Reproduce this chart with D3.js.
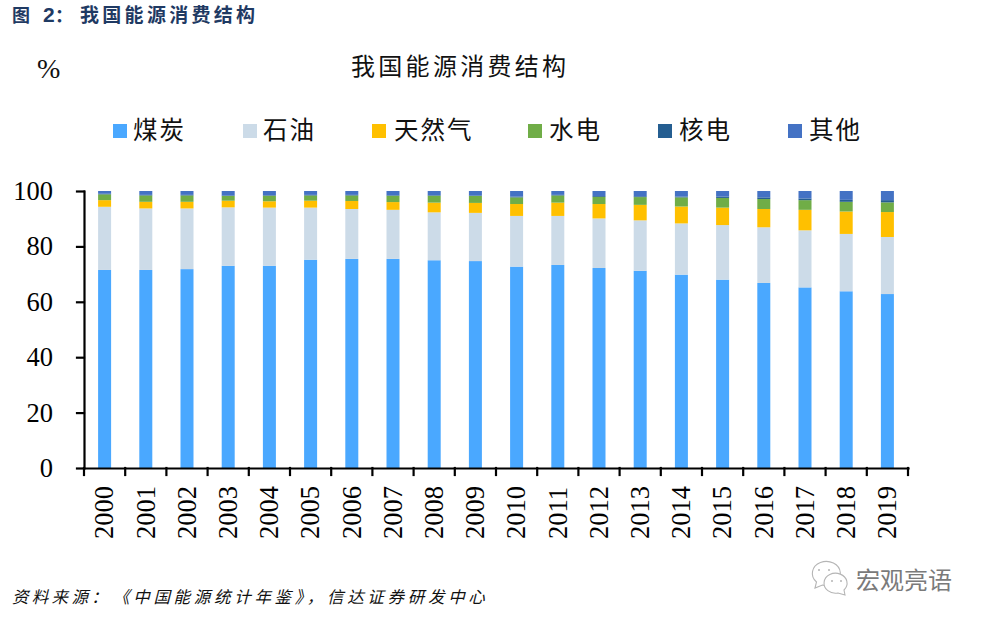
<!DOCTYPE html>
<html><head><meta charset="utf-8">
<script src="https://cdnjs.cloudflare.com/ajax/libs/d3/7.8.5/d3.min.js"></script>
<style>
html,body{margin:0;padding:0;background:#fff}
svg{display:block}
text{font-family:"Liberation Serif","Noto Sans CJK SC",serif}
.axis path,.axis line{stroke:#000;stroke-width:2.2;stroke-linecap:square}
.axis text{font-size:26.5px;fill:#000;font-family:"Liberation Serif",serif}
</style></head><body>
<svg id="c" width="983" height="623"></svg>
<script>
const years=["2000","2001","2002","2003","2004","2005","2006","2007","2008","2009","2010","2011","2012","2013","2014","2015","2016","2017","2018","2019"];
const names=["煤炭","石油","天然气","水电","核电","其他"];
const colors=["#4aa8ff","#ccdbe8","#ffc000","#70ad47","#255e91","#4472c4"];
const coal=[71.5,71.5,71.8,73.0,73.0,75.2,75.5,75.5,75.0,74.7,72.7,73.3,72.2,71.2,69.8,68.0,66.8,65.2,63.8,62.8];
const oil=[22.8,22.2,21.9,21.1,21.0,18.8,18.0,17.7,17.3,17.4,18.3,17.7,17.9,18.2,18.5,19.7,20.1,20.6,20.7,20.6];
const gas=[2.4,2.4,2.4,2.4,2.3,2.5,2.9,2.8,3.5,3.6,4.3,4.8,5.2,5.6,6.1,6.3,6.6,7.4,8.1,9.0];
const hydro=[2.1,2.3,2.3,1.7,2.0,1.9,2.0,2.3,2.5,2.5,2.4,2.6,2.6,2.8,3.3,3.5,3.6,3.5,3.5,3.5];
const nuclear=[0.2,0.2,0.2,0.2,0.2,0.2,0.2,0.2,0.2,0.2,0.3,0.2,0.3,0.3,0.3,0.5,0.6,0.6,0.7,0.8];
const other=[1.0,1.4,1.4,1.6,1.5,1.4,1.4,1.5,1.5,1.6,2.0,1.4,1.8,1.9,2.0,2.0,2.3,2.7,3.2,3.3];
const yTicks=[0,20,40,60,80,100];

const series=[coal,oil,gas,hydro,nuclear,other];
const rows=years.map((y,i)=>{const r={year:y};names.forEach((n,k)=>r[n]=series[k][i]);return r;});
const stack=d3.stack().keys(names)(rows);

const svg=d3.select("#c");
const x=d3.scaleBand().domain(years).range([84,908]).paddingInner(1-13/41.2).paddingOuter((1-13/41.2)/2);
const y=d3.scaleLinear().domain([0,100]).range([468,191]);

svg.append("g").selectAll("g").data(stack).join("g").attr("fill",(d,i)=>colors[i])
  .selectAll("rect").data(d=>d).join("rect")
  .attr("x",d=>x(d.data.year)).attr("width",x.bandwidth())
  .attr("y",d=>y(d[1])).attr("height",d=>y(d[0])-y(d[1]));

const gy=svg.append("g").attr("class","axis").attr("transform","translate(84,0)")
  .call(d3.axisLeft(y).tickValues(yTicks).tickSize(7).tickSizeOuter(0).tickPadding(24));
const gx=svg.append("g").attr("class","axis").attr("transform","translate(0,468)")
  .call(d3.axisBottom(x).tickSize(0).tickPadding(0));
gx.selectAll(".tick line").remove();
gx.selectAll(".tick text").attr("transform","translate(0,18) rotate(-90)").attr("x",-53).attr("y",0).attr("dy","0.33em").attr("text-anchor","start");
const step=x.step();
gx.selectAll("line.t").data(d3.range(years.length+1)).join("line").attr("class","t")
  .attr("x1",i=>84+i*step).attr("x2",i=>84+i*step).attr("y1",0).attr("y2",7);

// title block
const hc="#1f3a63";
svg.append("text").attr("x",12).attr("y",22).attr("fill",hc).attr("font-weight","bold").attr("font-size",18).text("图");
svg.append("text").attr("x",43).attr("y",22).attr("fill",hc).attr("font-weight","bold").attr("font-size",21)
  .style("font-family","'Liberation Sans','Noto Sans CJK SC'").text("2");
svg.append("text").attr("x",55).attr("y",22).attr("fill",hc).attr("font-weight","bold").attr("font-size",18).text("：");
svg.append("text").attr("x",80).attr("y",22).attr("fill",hc).attr("font-weight","bold").attr("font-size",19).style("letter-spacing","3.3px").text("我国能源消费结构");
svg.append("text").attr("x",351).attr("y",75).attr("font-size",24).style("letter-spacing","3.3px").attr("fill","#111").text("我国能源消费结构");
svg.append("text").attr("x",37).attr("y",78).attr("font-size",28).attr("fill","#111").text("%");

// legend
const legSq=[113,243,372,528,658,788];
const legOff=[20,20,22,21,21,21];
const leg=svg.append("g").selectAll("g").data(names).join("g");
leg.append("rect").attr("x",(d,i)=>legSq[i]).attr("y",124).attr("width",14).attr("height",14).attr("fill",(d,i)=>colors[i]);
leg.append("text").attr("x",(d,i)=>legSq[i]+legOff[i]).attr("y",139).attr("font-size",24.5).style("letter-spacing","2px").attr("fill","#111").text(d=>d);

// footer
const srcStyle=s=>s.attr("y",603).attr("font-size",16.5).attr("font-style","italic").attr("fill","#111");
svg.append("text").attr("x",12).call(srcStyle).style("letter-spacing","3.3px").text("资料来源：");
svg.append("text").attr("x",113).call(srcStyle).style("letter-spacing","3.7px").text("《中国能源统计年鉴》，信达证券研发中心");
svg.append("text").attr("x",856).attr("y",589).attr("font-size",24).attr("fill","#7a7a7a").text("宏观亮语");
const wm=svg.append("g").attr("fill","#fff").attr("stroke","#b5b5b5").attr("stroke-width",1.1);
wm.append("path").attr("d","M815 588l1.5-6a14 12 0 1 1 6 3z");
wm.append("path").attr("d","M845 595l-1-5a11.5 10 0 1 0-6 3z");
const eyes=svg.append("g").attr("fill","#b5b5b5");
[[819,570],[829,570],[832,581],[841,581]].forEach(p=>eyes.append("circle").attr("cx",p[0]).attr("cy",p[1]).attr("r",1));
</script></body></html>
